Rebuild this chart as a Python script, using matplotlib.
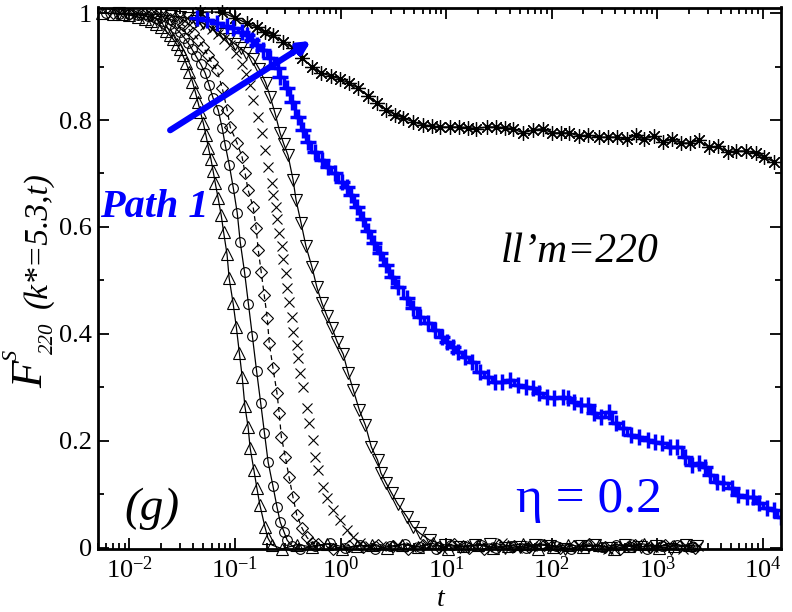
import numpy as np
import matplotlib
matplotlib.use('Agg')
import matplotlib.pyplot as plt
from matplotlib.ticker import LogLocator, MultipleLocator, FixedLocator, FixedFormatter, NullFormatter

plt.rcParams['font.family'] = ['Liberation Serif', 'DejaVu Serif']
plt.rcParams['mathtext.fontset'] = 'custom'
plt.rcParams['mathtext.rm'] = 'Liberation Serif'
plt.rcParams['mathtext.it'] = 'Liberation Serif:italic'
plt.rcParams['mathtext.bf'] = 'Liberation Serif:bold'

# ---------------- data ----------------
tri_up_t = [0.0055, 0.007, 0.0085, 0.010, 0.012, 0.014, 0.016, 0.018, 0.020, 0.022, 0.024, 0.026, 0.028,
            0.030, 0.032, 0.0345, 0.037, 0.0395, 0.042, 0.0445, 0.047, 0.050, 0.053, 0.056, 0.059, 0.062,
            0.065, 0.069, 0.074, 0.078, 0.084, 0.088, 0.096, 0.103, 0.110, 0.117, 0.124, 0.133, 0.139,
            0.151, 0.161, 0.172, 0.192, 0.205, 0.224]
tri_up_F = [1.000, 0.999, 0.998, 0.996, 0.993, 0.989, 0.985, 0.980, 0.974, 0.967, 0.959, 0.951, 0.942,
            0.932, 0.921, 0.906, 0.890, 0.872, 0.853, 0.834, 0.815, 0.795, 0.772, 0.748, 0.728, 0.705,
            0.682, 0.655, 0.622, 0.590, 0.549, 0.504, 0.457, 0.412, 0.364, 0.319, 0.265, 0.226, 0.187,
            0.145, 0.112, 0.080, 0.039, 0.018, 0.005]

circ_t = [0.006, 0.008, 0.010, 0.012, 0.015, 0.018, 0.021, 0.024, 0.027, 0.030, 0.033, 0.036, 0.039,
          0.0428, 0.0475, 0.0521, 0.0569, 0.062, 0.0692, 0.0756, 0.0808, 0.0882, 0.0963, 0.105, 0.112,
          0.123, 0.134, 0.146, 0.160, 0.175, 0.190, 0.206, 0.229, 0.250, 0.268, 0.292, 0.312, 0.348]
circ_F = [1.000, 0.999, 0.998, 0.997, 0.994, 0.990, 0.985, 0.979, 0.972, 0.964, 0.954, 0.944, 0.933,
          0.919, 0.904, 0.888, 0.865, 0.841, 0.819, 0.785, 0.753, 0.716, 0.673, 0.626, 0.572,
          0.516, 0.456, 0.396, 0.331, 0.271, 0.215, 0.160, 0.115, 0.076, 0.048, 0.029, 0.014, 0.003]

diam_t = [0.007, 0.010, 0.013, 0.016, 0.020, 0.024, 0.028, 0.032, 0.036, 0.040, 0.045, 0.050, 0.055,
          0.060, 0.0676, 0.0756, 0.0843, 0.090, 0.1045, 0.1166, 0.1245, 0.133, 0.1486, 0.1586, 0.166,
          0.177, 0.189, 0.202, 0.211, 0.229, 0.250, 0.262, 0.275, 0.300, 0.325, 0.354, 0.385, 0.431,
          0.478, 0.531]
diam_F = [1.000, 0.999, 0.998, 0.996, 0.993, 0.989, 0.984, 0.978, 0.971, 0.962, 0.950, 0.937, 0.922,
          0.908, 0.893, 0.860, 0.819, 0.787, 0.757, 0.731, 0.701, 0.669, 0.637, 0.598, 0.557,
          0.516, 0.473, 0.430, 0.383, 0.336, 0.289, 0.252, 0.207, 0.170, 0.132, 0.095, 0.061, 0.037,
          0.020, 0.009]

cross_t = [0.008, 0.012, 0.016, 0.020, 0.025, 0.030, 0.035, 0.040, 0.046, 0.052, 0.060, 0.069, 0.079,
           0.090, 0.103, 0.117, 0.128, 0.139, 0.149, 0.166, 0.180, 0.193, 0.206, 0.224, 0.229, 0.245,
           0.250, 0.262, 0.279, 0.285, 0.305, 0.311, 0.326, 0.347, 0.354, 0.386, 0.394, 0.413, 0.441,
           0.482, 0.503, 0.550, 0.575, 0.613, 0.683, 0.745, 0.850, 0.990, 1.15, 1.31, 1.53, 1.90]
cross_F = [1.000, 0.999, 0.998, 0.997, 0.995, 0.993, 0.990, 0.986, 0.982, 0.977, 0.970, 0.961, 0.951,
           0.940, 0.925, 0.905, 0.886, 0.866, 0.837, 0.805, 0.776, 0.744, 0.712, 0.682, 0.659, 0.637,
           0.615, 0.588, 0.564, 0.540, 0.514, 0.486, 0.460, 0.432, 0.404, 0.379, 0.355, 0.327, 0.301,
           0.261, 0.233, 0.201, 0.170, 0.145, 0.114, 0.093, 0.071, 0.052, 0.033, 0.020, 0.009, 0.003]

tri_dn_t = [0.008, 0.012, 0.016, 0.020, 0.025, 0.030, 0.036, 0.043, 0.050, 0.058, 0.067, 0.077, 0.088,
            0.100, 0.113, 0.128, 0.149, 0.170, 0.195, 0.216, 0.240, 0.267, 0.290, 0.318, 0.355, 0.379,
            0.423, 0.470, 0.536, 0.597, 0.667, 0.745, 0.83, 0.93, 1.06, 1.18, 1.32, 1.51, 1.72, 1.96,
            2.24, 2.41, 2.70, 3.05, 3.48, 4.25, 4.85, 5.65, 7.0, 9.8]
tri_dn_F = [1.000, 0.999, 0.998, 0.997, 0.995, 0.993, 0.990, 0.986, 0.981, 0.975, 0.968, 0.960, 0.951,
            0.942, 0.934, 0.926, 0.915, 0.895, 0.870, 0.843, 0.812, 0.776, 0.755, 0.734, 0.688, 0.650,
            0.607, 0.564, 0.525, 0.487, 0.457, 0.433, 0.411, 0.385, 0.362, 0.327, 0.295, 0.257, 0.229,
            0.188, 0.164, 0.140, 0.121, 0.102, 0.082, 0.058, 0.039, 0.027, 0.014, 0.005]

# long-time tails (plateau at zero) of the fast-decaying curves
tail1_t = [0.20, 0.28, 0.39, 0.54, 0.75, 1.04, 1.44, 2.0, 2.78, 3.86, 5.36, 7.45, 10.4, 14.4, 20, 27.8,
           38.6, 53.6, 74.5, 104, 144, 200, 278, 386, 536, 745, 1040, 1440, 2000]
tail1_F = [0.004, -0.002, 0.006, 0.001, 0.007, -0.003, 0.003, 0.005, -0.001, 0.006, 0.002, 0.008, -0.002,
           0.003, 0.005, 0.000, 0.004, 0.007, -0.003, 0.002, 0.006, 0.001, 0.005, -0.002, 0.004, 0.007,
           0.000, 0.003, 0.005]
tail2_t = [0.214, 0.297, 0.41, 0.57, 0.80, 1.11, 1.54, 2.14, 2.97, 4.1, 5.7, 8.0, 11.1, 15.4, 21.4, 29.7,
           41, 57, 80, 111, 154, 214, 297, 410, 570, 800, 1110, 1540, 2140]
tail2_F = [0.001, 0.006, -0.003, 0.004, 0.008, 0.000, 0.005, -0.002, 0.003, 0.007, 0.001, -0.003, 0.005,
           0.002, 0.006, -0.001, 0.004, 0.000, 0.007, 0.003, -0.002, 0.005, 0.001, 0.006, 0.002, -0.003,
           0.004, 0.006, 0.001]
tail3_t = [0.228, 0.317, 0.44, 0.61, 0.85, 1.19, 1.64, 2.28, 3.17, 4.4, 6.1, 8.5, 11.9, 16.4, 22.8, 31.7,
           44, 61, 85, 119, 164, 228, 317, 440, 610, 850, 1190, 1640, 2280]
tail3_F = [0.005, 0.000, 0.003, 0.007, -0.002, 0.004, 0.001, 0.006, 0.003, -0.003, 0.005, 0.002, 0.007,
           0.000, -0.002, 0.006, 0.003, 0.001, 0.005, -0.001, 0.004, 0.007, 0.002, -0.002, 0.005, 0.001,
           0.006, 0.003, -0.001]
tail4_t = [0.244, 0.339, 0.47, 0.65, 0.91, 1.27, 1.76, 2.44, 3.39, 4.7, 6.5, 9.1, 12.7, 17.6, 24.4, 33.9,
           47, 65, 91, 127, 176, 244, 339, 470, 650, 910, 1270, 1760, 2440]
tail4_F = [-0.001, 0.004, 0.007, 0.002, 0.000, 0.006, -0.003, 0.003, 0.005, 0.001, 0.007, -0.002, 0.004,
           0.006, 0.002, 0.008, -0.001, 0.003, 0.005, 0.000, 0.006, 0.002, -0.003, 0.004, 0.007, 0.001,
           0.005, -0.002, 0.003]
tail5_t = [0.26, 0.362, 0.50, 0.70, 0.97, 1.35, 1.88, 2.6, 3.62, 5.0, 7.0, 9.7, 13.5, 18.8, 26, 36.2,
           50, 70, 97, 135, 188, 260, 362, 500, 700, 970, 1350, 1880, 2400]
tail5_F = [0.003, 0.007, 0.001, -0.002, 0.005, 0.002, 0.006, 0.000, 0.004, -0.002, 0.006, 0.003, 0.001,
           0.005, 0.007, -0.001, 0.002, 0.006, 0.004, -0.003, 0.003, 0.005, 0.000, 0.006, 0.002, 0.004,
           -0.002, 0.005, 0.003]

star_t = [0.0467, 0.0753, 0.100, 0.130, 0.161, 0.192, 0.229, 0.286, 0.355, 0.434, 0.54, 0.655, 0.82,
          0.99, 1.19, 1.47, 1.82, 2.23, 2.71, 3.28, 3.89, 4.84, 6.0, 7.3, 8.7, 10.8, 13.2, 16.1, 19.4,
          24.2, 30.0, 35.8, 42.7, 53.3, 66.3, 82.4, 100, 123, 146, 183, 223, 278, 339, 413, 514, 627,
          748, 930, 1134, 1379, 1677, 2039, 2479, 3084, 3750, 4660, 5540, 6890, 8570, 10220, 12700]
star_F = [1.002, 1.002, 0.991, 0.981, 0.974, 0.965, 0.959, 0.946, 0.935, 0.916, 0.899, 0.888, 0.882,
          0.877, 0.869, 0.860, 0.845, 0.832, 0.819, 0.810, 0.804, 0.797, 0.791, 0.789, 0.787, 0.787,
          0.787, 0.786, 0.784, 0.787, 0.787, 0.786, 0.784, 0.776, 0.781, 0.784, 0.776, 0.776, 0.776,
          0.770, 0.772, 0.768, 0.768, 0.768, 0.764, 0.772, 0.764, 0.770, 0.759, 0.764, 0.757, 0.757,
          0.762, 0.749, 0.751, 0.740, 0.742, 0.742, 0.738, 0.731, 0.722]

blue_t = [0.0438, 0.0544, 0.068, 0.0843, 0.096, 0.117, 0.130, 0.145, 0.161, 0.184, 0.215, 0.256, 0.268,
          0.312, 0.347, 0.395, 0.441, 0.49, 0.57, 0.66, 0.76, 0.88, 1.03, 1.14, 1.25, 1.42, 1.62, 1.81,
          2.06, 2.35, 2.69, 3.07, 3.51, 4.27, 4.88, 5.69, 6.78, 7.91, 9.24, 10.3, 11.7, 13.0, 15.2,
          17.7, 21.1, 25.1, 29.3, 34.2, 39.9, 47.5, 56.6, 65.9, 75.3, 89.6, 104.4, 127, 142, 162, 188,
          219, 250, 291, 347, 405, 471, 561, 668, 811, 963, 1121, 1336, 1555, 1854, 2160, 2464, 2864,
          3190, 3713, 4222, 5130, 5840, 7100, 8100, 9280, 11040, 12700, 14800]
blue_F = [0.991, 0.987, 0.981, 0.976, 0.972, 0.965, 0.959, 0.950, 0.940, 0.931, 0.916, 0.897, 0.880,
          0.860, 0.834, 0.806, 0.781, 0.759, 0.740, 0.725, 0.712, 0.701, 0.684, 0.674, 0.659, 0.637,
          0.615, 0.592, 0.570, 0.551, 0.528, 0.506, 0.488, 0.467, 0.448, 0.432, 0.420, 0.407, 0.394,
          0.385, 0.375, 0.366, 0.357, 0.347, 0.329, 0.319, 0.310, 0.310, 0.313, 0.304, 0.300, 0.299,
          0.289, 0.282, 0.280, 0.282, 0.280, 0.273, 0.267, 0.267, 0.252, 0.244, 0.254, 0.233, 0.224,
          0.211, 0.207, 0.201, 0.198, 0.196, 0.188, 0.188, 0.170, 0.155, 0.158, 0.151, 0.136, 0.123,
          0.121, 0.112, 0.099, 0.095, 0.095, 0.084, 0.075, 0.071, 0.057]

x_ticks = [1e-2, 1e-1, 1e0, 1e1, 1e2, 1e3, 1e4]
x_ticklabels = [r'$10^{-2}$', r'$10^{-1}$', r'$10^{0}$', r'$10^{1}$', r'$10^{2}$', r'$10^{3}$', r'$10^{4}$']
y_ticks = [0, 0.2, 0.4, 0.6, 0.8, 1.0]
y_ticklabels = ['0', '0.2', '0.4', '0.6', '0.8', '1']

# ---------------- figure ----------------
W, H = 792, 612
fig = plt.figure(figsize=(W / 100, H / 100), dpi=100)
L, R, T, B = 97.7, 781.0, 7.5, 549.0
ax = fig.add_axes([L / W, 1 - B / H, (R - L) / W, (B - T) / H])


def with_tail(t, F, tt, tf):
    tt = np.array(tt)
    tf = np.array(tf)
    keep = tt > t[-1] * 1.08
    return np.concatenate([t, tt[keep]]), np.concatenate([F, tf[keep]])


mk = dict(mfc='none', mec='k', mew=0.8, color='k', clip_on=False)
t, F = with_tail(tri_up_t, tri_up_F, tail1_t, tail1_F)
ax.plot(t, F, marker='^', ms=8.5, lw=0.9, **mk)
t, F = with_tail(circ_t, circ_F, tail2_t, tail2_F)
ax.plot(t, F, marker='o', ms=7, lw=0.9, **mk)
t, F = with_tail(diam_t, diam_F, tail3_t, tail3_F)
ax.plot(t, F, marker='D', ms=6.5, lw=0.9, ls=(0, (4, 3)), **mk)
t, F = with_tail(cross_t, cross_F, tail4_t, tail4_F)
ax.plot(t, F, marker='x', ms=7.5, lw=0, **mk)
t, F = with_tail(tri_dn_t, tri_dn_F, tail5_t, tail5_F)
ax.plot(t, F, marker='v', ms=8.5, lw=0.9, **mk)

ax.plot(star_t, star_F, color='k', lw=1.0, marker=(8, 2, 0), ms=10.5, mew=0.9, mec='k', clip_on=False)
ax.plot(blue_t, blue_F, color='#0000ff', lw=2.5, drawstyle='steps-mid')
ax.plot(blue_t, blue_F, color='#0000ff', lw=0, marker='+', ms=11, mew=2.5)

ax.set_xscale('log')
ax.set_xlim(0.005, 14900)
ax.set_ylim(-0.0024, 1.0105)

ax.xaxis.set_major_locator(FixedLocator(x_ticks))
ax.xaxis.set_major_formatter(FixedFormatter(x_ticklabels))
ax.xaxis.set_minor_locator(LogLocator(base=10, subs=np.arange(2, 10), numticks=100))
ax.xaxis.set_minor_formatter(NullFormatter())
ax.yaxis.set_major_locator(FixedLocator(y_ticks))
ax.yaxis.set_major_formatter(FixedFormatter(y_ticklabels))
ax.yaxis.set_minor_locator(MultipleLocator(0.1))

ax.tick_params(which='both', direction='in', top=True, right=True, width=1.3, labelsize=19)
ax.tick_params(which='major', length=8)
ax.tick_params(which='minor', length=4.5)
ax.tick_params(axis='x', which='major', pad=5.5)
ax.tick_params(axis='y', which='major', pad=4)
for s in ax.spines.values():
    s.set_linewidth(2.0)
    s.set_zorder(3)

ax.set_xlabel('t', fontstyle='italic', fontsize=20)
ax.xaxis.set_label_coords((441 - L) / (R - L), -(605.5 - B) / (B - T))
ax.xaxis.label.set_verticalalignment('baseline')


def fx(x, y):
    return x / W, 1 - y / H


# y label pieces
fig.text(*fx(42, 388), 'F', fontsize=32, fontstyle='italic', rotation=90,
         rotation_mode='anchor', ha='left', va='baseline')
fig.text(*fx(17, 361), 'S', fontsize=16, fontstyle='italic', rotation=90,
         rotation_mode='anchor', ha='left', va='baseline')
fig.text(*fx(53, 354), '220', fontsize=15, fontstyle='italic', rotation=90,
         rotation_mode='anchor', ha='left', va='baseline')
fig.text(*fx(47, 308), '(k*=5.3,t)', fontsize=24, fontstyle='italic', rotation=90,
         rotation_mode='anchor', ha='left', va='baseline')

# annotations
fig.text(*fx(100, 217), 'Path 1', fontsize=29, fontstyle='italic', fontweight='bold',
         color='#0000ff', ha='left', va='baseline')
fig.text(*fx(580, 262), 'll\u2019m=220', fontsize=30, fontstyle='italic', ha='center', va='baseline')
fig.text(*fx(662, 512), '\u03b7 = 0.2', fontsize=37, color='#0000ff', ha='right', va='baseline')
fig.text(*fx(152, 520), '(g)', fontsize=34, fontstyle='italic', ha='center', va='baseline')

ax.annotate('', xy=(0.526, 0.948), xytext=(0.0243, 0.781),
            arrowprops=dict(arrowstyle='-|>', color='#0000ff', lw=4.5, mutation_scale=16,
                            shrinkA=0, shrinkB=0))

fig.savefig('out.png', dpi=100)
